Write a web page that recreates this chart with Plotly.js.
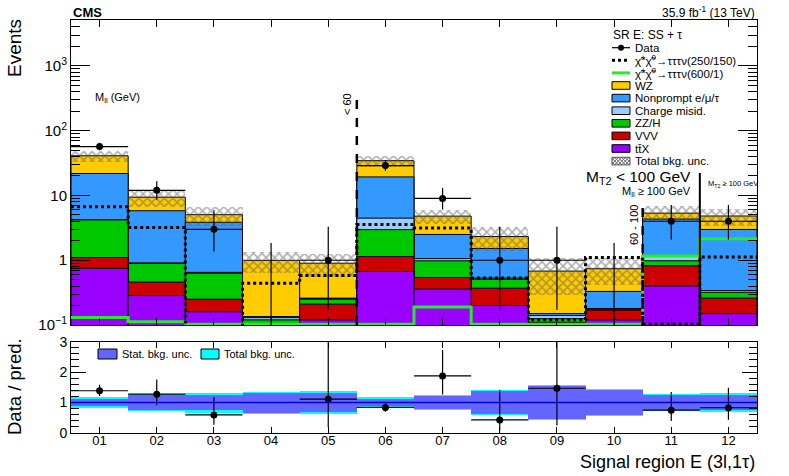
<!DOCTYPE html>
<html><head><meta charset="utf-8">
<script src="https://cdn.plot.ly/plotly-3.0.1.min.js"></script>
<style>body{margin:0;background:#fff;} #plot{width:789px;height:476px;}</style>
</head><body><div id="plot"></div>
<script>
// ---------------- data ----------------
const binLabels = ['01','02','03','04','05','06','07','08','09','10','11','12'];
const ttX        = [0.75, 0.285, 0.16, 0.08, 0.12, 0.67, 0.36, 0.20, 0.10, 0.12, 0.40, 0.15];
const VVV        = [0.35, 0.175, 0.09, 0.02, 0.09, 0.47, 0.18, 0.17, 0.01, 0.05, 0.42, 0.11];
const ZZH        = [3.10, 0.43, 0.38, 0.02, 0.04, 1.83, 0.44, 0.14, 0.015, 0.005, 0.16, 0.06];
const chargeMisID= [0.05, 0.02, 0.02, 0.01, 0.005, 1.50, 0.08, 0.02, 0.015, 0.005, 0.18, 0.02];
const nonprompt  = [17.6, 4.90, 3.20, 0.005, 0.005, 14.9, 1.44, 0.99, 0.01, 0.15, 3.17, 2.65];
const WZ         = [19.2, 3.60, 1.20, 0.86, 0.64, 15.1, 2.30, 0.80, 0.53, 0.41, 1.00, 1.83];
const dataObs    = [57, 12, 3, 0, 1, 29, 9, 1, 1, 0, 4, 4];
const dataErrUp  = [8.1, 4.53, 2.92, 1.84, 2.30, 5.91, 4.11, 2.30, 2.30, 1.84, 3.16, 3.16];
const dataErrDn  = [7.1, 3.42, 1.63, 0, 0.83, 4.91, 2.94, 0.83, 0.83, 0, 1.91, 1.91];
const statUnc    = [0.115, 0.235, 0.25, 0.33, 0.31, 0.12, 0.21, 0.37, 0.53, 0.41, 0.24, 0.25];
const totUnc     = [0.19, 0.285, 0.33, 0.36, 0.38, 0.19, 0.25, 0.40, 0.57, 0.44, 0.28, 0.30];
const sig250_150 = [6.7, 3.2, 0.09, 0.44, 0.58, 3.55, 3.15, 0.53, 0.12, 1.1, 0.104, 1.12];
const sig600_1   = [0.13, 0.112, 0.103, 0.103, 0.103, 0.103, 0.19, 0.103, 0.103, 0.103, 1.16, 2.14];
const yTickVals  = [0.1, 1, 10, 100, 1000];
const yTickText  = ['10<sup>−1</sup>', '1', '10', '10<sup>2</sup>', '10<sup>3</sup>'];
const rTickVals  = [0, 1, 2, 3];
const rTickText  = ['0', '1', '2', '3'];

// ---------------- helpers ----------------
const W = 789, H = 476, ML = 71, MR = 32, MT = 20, MB = 43;
const PW = W - ML - MR, PH = H - MT - MB;
const px = p => (p - ML) / PW;
const py = p => (H - MB - p) / PH;
const FONT = 'Liberation Sans, Arial, Helvetica, sans-serif';

const n = binLabels.length;
const centers = binLabels.map((_, i) => i + 1);
const edges = centers.map(c => c - 0.5).concat([n + 0.5]);
const comps = [
  {name: 'tt\u0304X', v: ttX, c: '#9900ff'},
  {name: 'VVV', v: VVV, c: '#cc0000'},
  {name: 'ZZ/H', v: ZZH, c: '#00c800'},
  {name: 'Charge misid.', v: chargeMisID, c: '#99ccff'},
  {name: 'Nonprompt e/μ/τ', v: nonprompt, c: '#3399ff'},
  {name: 'WZ', v: WZ, c: '#ffcc00'}
];
const cum = [];
comps.forEach((cp, k) => {
  cum.push(cp.v.map((v, i) => v + (k > 0 ? cum[k - 1][i] : 0)));
});
const total = cum[cum.length - 1];

const traces = [];
for (let k = comps.length - 1; k >= 0; k--) {
  traces.push({type: 'bar', x: centers, y: cum[k], width: 1, xaxis: 'x', yaxis: 'y',
    marker: {color: comps[k].c, line: {color: '#000', width: 1}}, hoverinfo: 'skip', showlegend: false});
}
// total bkg. uncertainty hatch
traces.push({type: 'bar', x: centers, base: total.map((t, i) => t * (1 - totUnc[i])),
  y: total.map((t, i) => 2 * t * totUnc[i]), width: 1, xaxis: 'x', yaxis: 'y',
  marker: {color: 'rgba(0,0,0,0)', line: {width: 0},
    pattern: {shape: 'x', fgcolor: '#5e5e5e', size: 6, solidity: 0.45, fillmode: 'overlay'}},
  hoverinfo: 'skip', showlegend: false});
// signals
traces.push({type: 'scatter', mode: 'lines', x: edges, y: sig600_1.concat([sig600_1[n - 1]]),
  line: {shape: 'hv', color: '#22ee22', width: 3}, xaxis: 'x', yaxis: 'y', showlegend: false, hoverinfo: 'skip'});
traces.push({type: 'scatter', mode: 'lines', x: edges, y: sig250_150.concat([sig250_150[n - 1]]),
  line: {shape: 'hv', color: '#000', width: 3, dash: 'dot'}, xaxis: 'x', yaxis: 'y', showlegend: false, hoverinfo: 'skip'});
// data
traces.push({type: 'scatter', mode: 'markers', x: centers, y: dataObs.map(d => d > 0 ? d : null),
  marker: {color: '#000', size: 7},
  error_y: {type: 'data', symmetric: false, array: dataErrUp, arrayminus: dataErrDn, color: '#000', thickness: 1.2, width: 0},
  error_x: {type: 'constant', value: 0.5, color: '#000', thickness: 1.2, width: 0},
  xaxis: 'x', yaxis: 'y', showlegend: false, hoverinfo: 'skip', cliponaxis: true});
// zero-count bins: upper error only
const zx = [], zy = [];
dataObs.forEach((d, i) => { if (d === 0) { zx.push(centers[i], centers[i], null); zy.push(1e-3, dataErrUp[i], null); } });
traces.push({type: 'scatter', mode: 'lines', x: zx, y: zy, line: {color: '#000', width: 1.2},
  xaxis: 'x', yaxis: 'y', showlegend: false, hoverinfo: 'skip'});

// ratio panel
traces.push({type: 'bar', x: centers, base: totUnc.map(u => 1 - u), y: totUnc.map(u => 2 * u), width: 1,
  marker: {color: '#00ffff', line: {width: 0}}, xaxis: 'x2', yaxis: 'y2', showlegend: false, hoverinfo: 'skip'});
traces.push({type: 'bar', x: centers, base: statUnc.map(u => 1 - u), y: statUnc.map(u => 2 * u), width: 1,
  marker: {color: '#6464ff', line: {width: 0}}, xaxis: 'x2', yaxis: 'y2', showlegend: false, hoverinfo: 'skip'});
traces.push({type: 'scatter', mode: 'markers', x: centers,
  y: dataObs.map((d, i) => d > 0 ? d / total[i] : null),
  marker: {color: '#000', size: 7},
  error_y: {type: 'data', symmetric: false, array: dataErrUp.map((e, i) => e / total[i]),
    arrayminus: dataErrDn.map((e, i) => e / total[i]), color: '#000', thickness: 1.2, width: 0},
  error_x: {type: 'constant', value: 0.5, color: '#000', thickness: 1.2, width: 0},
  xaxis: 'x2', yaxis: 'y2', showlegend: false, hoverinfo: 'skip'});

// minor tick positions for log axis
const minorLog = [];
for (let e = -1; e <= 3; e++) for (let d = 2; d <= 9; d++) minorLog.push(d * Math.pow(10, e));

const axisCommon = {showline: true, linecolor: '#000', linewidth: 1, mirror: 'allticks',
  ticks: 'inside', tickcolor: '#000', showgrid: false, zeroline: false};

const shapes = [
  {type: 'line', xref: 'x2', yref: 'y2', x0: 0.5, x1: n + 0.5, y0: 1, y1: 1, line: {color: '#0000cc', width: 1.5}, layer: 'above'},
  {type: 'line', xref: 'x', yref: 'paper', x0: 5.5, x1: 5.5, y0: py(325), y1: py(95), line: {color: '#000', width: 2.5, dash: 'dash'}},
  {type: 'line', xref: 'x', yref: 'paper', x0: 10.5, x1: 10.5, y0: py(325), y1: py(205), line: {color: '#000', width: 2.5, dash: 'dash'}},
  {type: 'line', xref: 'x', yref: 'paper', x0: 11.5, x1: 11.5, y0: py(325), y1: py(173), line: {color: '#000', width: 2}}
];
const ann = [];
function txt(t, x, y, opts) {
  ann.push(Object.assign({text: t, xref: 'paper', yref: 'paper', x: px(x), y: py(y), showarrow: false,
    xanchor: 'left', yanchor: 'middle', font: {family: FONT, size: 12, color: '#000'}}, opts || {}));
}
txt('<b>CMS</b>', 71, 12, {font: {family: FONT, size: 13, color: '#000'}});
txt('35.9 fb<sup>-1</sup> (13 TeV)', 757, 12, {xanchor: 'right', font: {family: FONT, size: 12, color: '#000'}});
txt('Events', 14, 48, {textangle: -90, xanchor: 'center', font: {family: FONT, size: 19, color: '#000'}});
txt('Data / pred.', 14, 387, {textangle: -90, xanchor: 'center', font: {family: FONT, size: 18.5, color: '#000'}});
txt('Signal region E (3l,1τ)', 757, 462, {xanchor: 'right', font: {family: FONT, size: 18, color: '#000'}});
txt('M<sub>ll</sub> (GeV)', 93, 98, {font: {family: FONT, size: 11, color: '#000'}});
txt('< 60', 347, 104, {textangle: -90, xanchor: 'center', font: {family: FONT, size: 11, color: '#000'}});
txt('60 - 100', 634, 225, {textangle: -90, xanchor: 'center', font: {family: FONT, size: 11, color: '#000'}});
txt('M<sub>T2</sub> < 100 GeV', 693, 177, {xanchor: 'right', font: {family: FONT, size: 15.5, color: '#000'}});
txt('M<sub>ll</sub> ≥ 100 GeV', 693, 192, {xanchor: 'right', font: {family: FONT, size: 11, color: '#000'}});
txt('M<sub>T2</sub> ≥ 100 GeV', 706, 184, {font: {family: FONT, size: 7.5, color: '#000'}});

// legend (main panel)
const LX0 = 612, LX1 = 630, LT = 633, LY0 = 47.7, LDY = 12.6;
txt('SR E: SS + τ', 611, 35, {font: {family: FONT, size: 12, color: '#000'}});
const legItems = [
  {kind: 'data', label: 'Data'},
  {kind: 'dot', label: 'χ̃<sup>±</sup>χ̃<sup>0</sup>→τττν(250/150)'},
  {kind: 'green', label: 'χ̃<sup>±</sup>χ̃<sup>0</sup>→τττν(600/1)'}
];
for (let k = comps.length - 1; k >= 0; k--) legItems.push({kind: 'box', label: comps[k].name, color: comps[k].c});
legItems.push({kind: 'hatch', label: 'Total bkg. unc.'});
legItems.forEach((it, j) => {
  const yc = LY0 + j * LDY;
  txt(it.label, LT, yc, {font: {family: FONT, size: 11.5, color: '#000'}});
  const y0 = py(yc - 3.8), y1 = py(yc + 3.8), x0 = px(LX0), x1 = px(LX1);
  if (it.kind === 'data') {
    shapes.push({type: 'line', xref: 'paper', yref: 'paper', x0: x0, x1: x1, y0: py(yc), y1: py(yc), line: {color: '#000', width: 1.2}});
    shapes.push({type: 'circle', xref: 'paper', yref: 'paper', x0: px(618), x1: px(624), y0: py(yc - 3), y1: py(yc + 3), fillcolor: '#000', line: {color: '#000', width: 0}});
  } else if (it.kind === 'dot') {
    shapes.push({type: 'line', xref: 'paper', yref: 'paper', x0: x0, x1: x1, y0: py(yc), y1: py(yc), line: {color: '#000', width: 3, dash: 'dot'}});
  } else if (it.kind === 'green') {
    shapes.push({type: 'line', xref: 'paper', yref: 'paper', x0: x0, x1: x1, y0: py(yc), y1: py(yc), line: {color: '#22ee22', width: 3}});
  } else if (it.kind === 'box') {
    shapes.push({type: 'rect', xref: 'paper', yref: 'paper', x0: x0, x1: x1, y0: y0, y1: y1, fillcolor: it.color, line: {color: '#000', width: 1}});
  } else {
    let path = '';
    for (let s = LX0 - 8; s < LX1; s += 3.5) {
      const a = Math.max(s, LX0), b = Math.min(s + 7.6, LX1);
      path += `M${px(a)},${py(yc + 3.8 - (a - s))} L${px(b)},${py(yc + 3.8 - (b - s))} `;
      path += `M${px(a)},${py(yc - 3.8 + (a - s))} L${px(b)},${py(yc - 3.8 + (b - s))} `;
    }
    shapes.push({type: 'path', xref: 'paper', yref: 'paper', path: path, line: {color: '#666', width: 1}});
    shapes.push({type: 'rect', xref: 'paper', yref: 'paper', x0: x0, x1: x1, y0: y0, y1: y1, line: {color: '#555', width: 1}});
  }
});
// ratio legend
shapes.push({type: 'rect', xref: 'paper', yref: 'paper', x0: px(98), x1: px(117), y0: py(359), y1: py(349), fillcolor: '#6464ff', line: {color: '#000', width: 1}});
shapes.push({type: 'rect', xref: 'paper', yref: 'paper', x0: px(201), x1: px(219), y0: py(359), y1: py(349), fillcolor: '#00ffff', line: {color: '#000', width: 1}});
txt('Stat. bkg. unc.', 120, 354, {font: {family: FONT, size: 11, color: '#000'}});
txt('Total bkg. unc.', 222, 354, {font: {family: FONT, size: 11, color: '#000'}});

const layout = {
  width: W, height: H, margin: {l: ML, r: MR, t: MT, b: MB, pad: 0},
  paper_bgcolor: '#fff', plot_bgcolor: '#fff', barmode: 'overlay', bargap: 0,
  font: {family: FONT, color: '#000'},
  xaxis: Object.assign({}, axisCommon, {domain: [0, 1], anchor: 'y', range: [0.5, n + 0.5],
    tickmode: 'array', tickvals: centers, showticklabels: false, ticklen: 7}),
  yaxis: Object.assign({}, axisCommon, {domain: [py(325), 1], anchor: 'x', type: 'log', range: [-1, 3.71],
    tickmode: 'array', tickvals: yTickVals, ticktext: yTickText, ticklen: 19,
    tickfont: {family: FONT, size: 15}, minor: {tickmode: 'array', tickvals: minorLog, ticks: 'inside', ticklen: 9, tickcolor: '#000'}}),
  xaxis2: Object.assign({}, axisCommon, {domain: [0, 1], anchor: 'y2', range: [0.5, n + 0.5],
    tickmode: 'array', tickvals: centers, ticktext: binLabels, ticklen: 6, ticklabelstandoff: -5,
    tickfont: {family: FONT, size: 13}}),
  yaxis2: Object.assign({}, axisCommon, {domain: [0, py(341.7)], anchor: 'x2', range: [0, 3],
    tickmode: 'array', tickvals: rTickVals, ticktext: rTickText, ticklen: 15,
    tickfont: {family: FONT, size: 14}, minor: {tickmode: 'linear', tick0: 0, dtick: 0.2, ticks: 'inside', ticklen: 8, tickcolor: '#000'}}),
  shapes: shapes, annotations: ann, showlegend: false
};
Plotly.newPlot('plot', traces, layout, {staticPlot: true, displayModeBar: false});
</script></body></html>
